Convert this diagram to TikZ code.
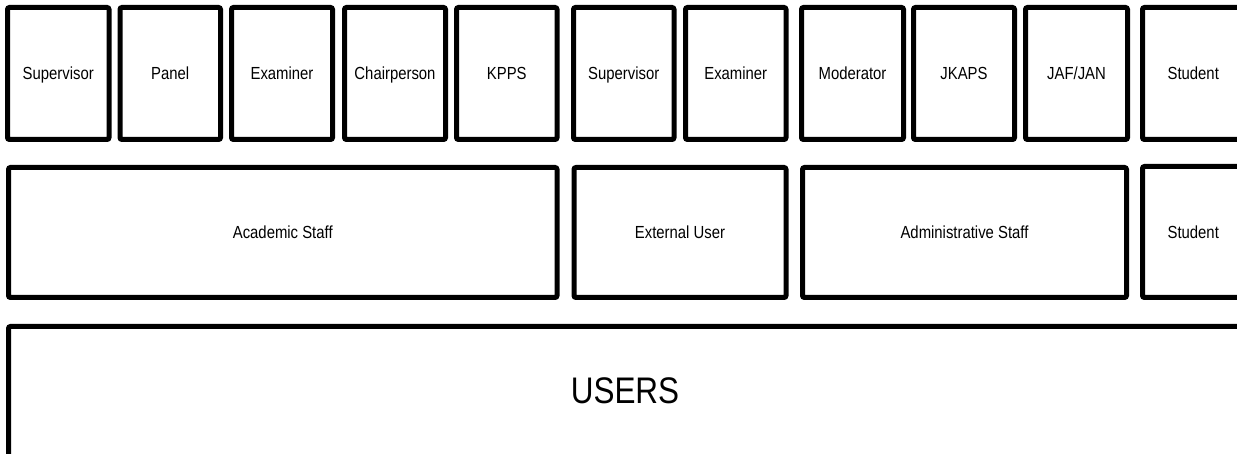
\documentclass[tikz,border=0pt]{standalone}
\usepackage{fontspec}
\setmainfont{Liberation Sans}[FakeStretch=0.85]
\begin{document}
\begin{tikzpicture}[x=1pt,y=-1pt,
  box/.style={draw=black, line width=5pt, rounded corners=2pt, fill=white,
    inner sep=0pt, outer sep=0pt, text height=12.5pt, text depth=0pt,
    font=\fontsize{17.5}{20}\selectfont},
  big/.style={box, text height=26.5pt, text depth=33pt, font=\fontsize{37}{40}\selectfont}]
\useasboundingbox (0,0) rectangle (1237,454);
\clip (0,0) rectangle (1237,454);
% top row
\node[box, minimum width=101.5pt, minimum height=132pt] (sup1)  at (58.25,73.5) {Supervisor};
\node[box, minimum width=100.5pt, minimum height=132pt] (panel) at (170.25,73.5) {Panel};
\node[box, minimum width=101pt,   minimum height=132pt] (exam1) at (282,73.5) {Examiner};
\node[box, minimum width=101pt,   minimum height=132pt] (chair) at (395,73.5) {Chairperson};
\node[box, minimum width=100.5pt, minimum height=132pt] (kpps)  at (506.75,73.5) {KPPS};
\node[box, minimum width=100.5pt, minimum height=132pt] (sup2)  at (623.75,73.5) {Supervisor};
\node[box, minimum width=100.5pt, minimum height=132pt] (exam2) at (735.75,73.5) {Examiner};
\node[box, minimum width=102pt,   minimum height=132pt] (mod)   at (852.5,73.5) {Moderator};
\node[box, minimum width=101pt,   minimum height=132pt] (jkaps) at (964,73.5) {JKAPS};
\node[box, minimum width=102pt,   minimum height=132pt] (jaf)   at (1076.5,73.5) {JAF/JAN};
\node[box, minimum width=101.5pt, minimum height=132pt] (stud1) at (1193.25,73.5) {Student};
% middle row
\node[box, minimum width=548.5pt, minimum height=130pt] (acad)  at (282.75,232.5) {Academic Staff};
\node[box, minimum width=212pt,   minimum height=130pt] (ext)   at (680,232.5) {External User};
\node[box, minimum width=324pt,   minimum height=130pt] (admin) at (964.5,232.5) {Administrative Staff};
\node[box, minimum width=101.5pt, minimum height=131pt] (stud2) at (1193.25,232) {Student};
% bottom
\node[big, minimum width=1233pt, minimum height=160pt] (users) at (625,406.5) {USERS};
\end{tikzpicture}
\end{document}
